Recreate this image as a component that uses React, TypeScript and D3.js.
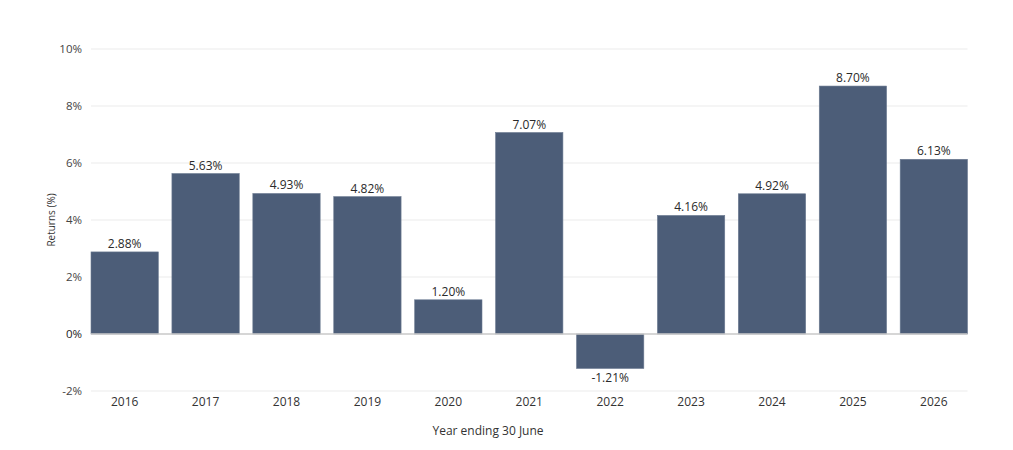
import React, { useEffect, useRef } from "react";
import * as d3 from "d3";

const WIDTH = 1013;
const HEIGHT = 450;
const MARGIN = { top: 49, right: 45.5, bottom: 59, left: 91 };

const years = ["2016", "2017", "2018", "2019", "2020", "2021", "2022", "2023", "2024", "2025", "2026"];
const returns = [2.88, 5.63, 4.93, 4.82, 1.2, 7.07, -1.21, 4.16, 4.92, 8.7, 6.13];
const yTicks = [-2, 0, 2, 4, 6, 8, 10];

const FONT = "'Open Sans', 'Noto Sans', sans-serif";
const BAR_COLOR = "#4c5d78";

const App = () => {
  const ref = useRef(null);
  const boundsWidth = WIDTH - MARGIN.left - MARGIN.right;
  const boundsHeight = HEIGHT - MARGIN.top - MARGIN.bottom;

  useEffect(() => {
    const g = d3.select(ref.current);
    g.selectAll("*").remove();

    const xScale = d3.scaleBand().domain(years).range([0, boundsWidth]).paddingInner(0.168).paddingOuter(0);
    const yScale = d3.scaleLinear().domain([-2, 10]).range([boundsHeight, 0]);

    // gridlines
    g.append("g")
      .selectAll("line")
      .data(yTicks.filter((t) => t !== 0))
      .enter()
      .append("line")
      .attr("x1", 0)
      .attr("x2", boundsWidth)
      .attr("y1", (d) => yScale(d))
      .attr("y2", (d) => yScale(d))
      .attr("stroke", "#ebebeb")
      .attr("stroke-width", 1);

    // y tick labels
    g.append("g")
      .selectAll("text")
      .data(yTicks)
      .enter()
      .append("text")
      .attr("x", -9)
      .attr("y", (d) => yScale(d))
      .attr("dy", "0.35em")
      .attr("text-anchor", "end")
      .attr("font-family", FONT)
      .attr("font-size", 11.5)
      .attr("fill", (d) => (d === 0 ? "#222" : "#444"))
      .text((d) => `${d}%`);

    const data = years.map((y, i) => ({ year: y, value: returns[i] }));

    // bars
    g.append("g")
      .selectAll("rect")
      .data(data)
      .enter()
      .append("rect")
      .attr("x", (d) => xScale(d.year)!)
      .attr("width", xScale.bandwidth())
      .attr("y", (d) => yScale(Math.max(0, d.value)))
      .attr("height", (d) => Math.abs(yScale(d.value) - yScale(0)))
      .attr("fill", BAR_COLOR)
      .attr("stroke", "#6b7a91")
      .attr("stroke-width", 0.6);

    // zero line
    g.append("line")
      .attr("x1", 0)
      .attr("x2", boundsWidth)
      .attr("y1", yScale(0))
      .attr("y2", yScale(0))
      .attr("stroke", "#c8c8c8")
      .attr("stroke-width", 1.5);

    // value labels
    g.append("g")
      .selectAll("text")
      .data(data)
      .enter()
      .append("text")
      .attr("x", (d) => xScale(d.year)! + xScale.bandwidth() / 2)
      .attr("y", (d) => (d.value >= 0 ? yScale(d.value) - 4 : yScale(d.value) + 14))
      .attr("text-anchor", "middle")
      .attr("font-family", FONT)
      .attr("font-size", 12)
      .attr("fill", "#2a2a2a")
      .text((d) => `${d.value.toFixed(2)}%`);

    // x tick labels
    g.append("g")
      .selectAll("text")
      .data(years)
      .enter()
      .append("text")
      .attr("x", (d) => xScale(d)! + xScale.bandwidth() / 2)
      .attr("y", boundsHeight + 15)
      .attr("text-anchor", "middle")
      .attr("font-family", FONT)
      .attr("font-size", 12)
      .attr("fill", "#333")
      .text((d) => d);

    // x axis title
    g.append("text")
      .attr("x", 397)
      .attr("y", boundsHeight + 44)
      .attr("text-anchor", "middle")
      .attr("font-family", FONT)
      .attr("font-size", 12)
      .attr("fill", "#333")
      .text("Year ending 30 June");

    // y axis title
    g.append("text")
      .attr("transform", "rotate(-90)")
      .attr("x", -boundsHeight / 2)
      .attr("y", -36)
      .attr("text-anchor", "middle")
      .attr("font-family", FONT)
      .attr("font-size", 10)
      .attr("fill", "#333")
      .text("Returns (%)");

    return () => {
      g.selectAll("*").remove();
    };
  }, [boundsWidth, boundsHeight]);

  return (
    <svg width={WIDTH} height={HEIGHT} style={{ position: "absolute", left: 0, top: 0, background: "#fff" }}>
      <g ref={ref} transform={`translate(${MARGIN.left},${MARGIN.top})`} />
    </svg>
  );
};

export default App;
